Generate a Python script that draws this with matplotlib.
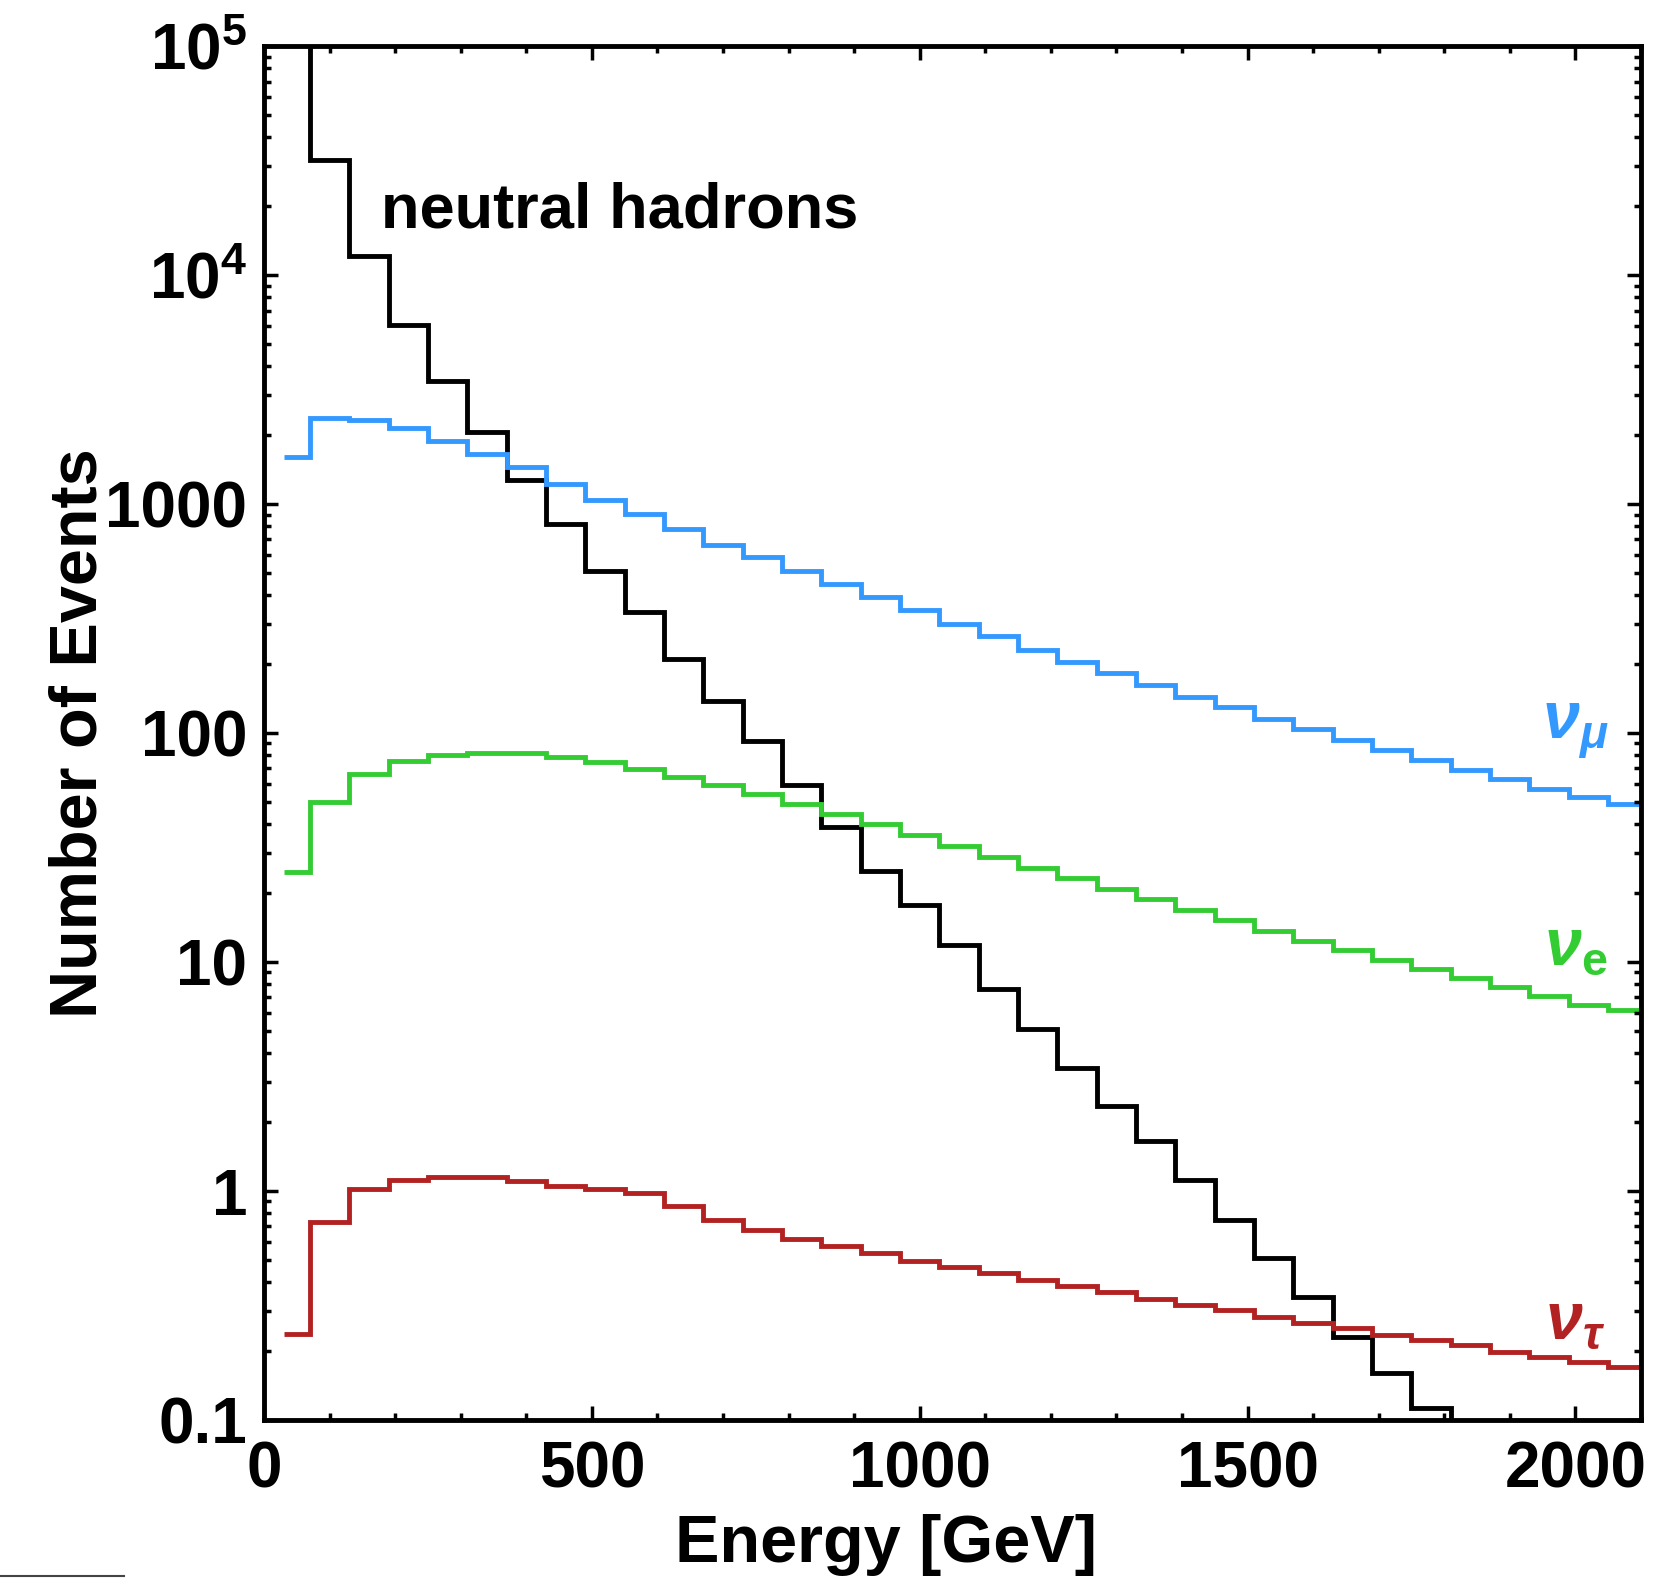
import numpy as np
import matplotlib
matplotlib.use('Agg')
import matplotlib.pyplot as plt
from matplotlib.lines import Line2D
from matplotlib.ticker import FixedLocator, FixedFormatter, LogLocator, MultipleLocator, NullFormatter

plt.rcParams['font.family'] = ['Liberation Sans', 'DejaVu Sans']
plt.rcParams['font.weight'] = 'bold'
plt.rcParams['mathtext.fontset'] = 'custom'
plt.rcParams['mathtext.rm'] = 'Liberation Sans:bold'
plt.rcParams['mathtext.it'] = 'Liberation Sans:italic'
plt.rcParams['mathtext.bf'] = 'Liberation Sans:bold'

# bin edges in GeV (first bin 30-70, then 60 GeV wide)
edges = [30] + list(range(70, 2111, 60))

# neutral hadrons (black), ends below 0.1 after 1810 GeV
hadron_edges = [30] + list(range(70, 1871, 60))
hadrons = [2e5, 31800, 12100, 6050, 3450, 2070, 1270, 815, 511, 337, 211, 138, 92,
           59, 39, 25, 17.8, 11.9, 7.6, 5.1, 3.43, 2.34, 1.66, 1.12, 0.75, 0.51,
           0.346, 0.231, 0.161, 0.113, 0.06]

nu_mu = [1607, 2380, 2330, 2140, 1880, 1660, 1446, 1220, 1040, 906, 780, 665, 586,
         510, 449, 391, 344, 300, 264, 230, 205, 182, 162, 144, 130, 115, 104, 93,
         84, 76, 69, 63, 57, 52.5, 49]

nu_e = [24.7, 49.8, 66.4, 75.4, 80.3, 82, 82, 78.7, 74.6, 69.3, 64.3, 59, 54.2, 48.8,
        44.4, 39.9, 35.9, 32.2, 28.7, 25.8, 23.2, 20.9, 18.8, 16.9, 15.2, 13.6, 12.4,
        11.3, 10.2, 9.3, 8.5, 7.8, 7.1, 6.5, 6.15]

nu_tau = [0.238, 0.734, 1.02, 1.12, 1.15, 1.15, 1.11, 1.05, 1.02, 0.98, 0.86, 0.75,
          0.675, 0.62, 0.575, 0.535, 0.497, 0.466, 0.437, 0.41, 0.385, 0.361, 0.339,
          0.318, 0.301, 0.283, 0.265, 0.251, 0.236, 0.224, 0.212, 0.199, 0.189, 0.179,
          0.171]

ytick_vals = [0.1, 1, 10, 100, 1000, 1e4, 1e5]
ytick_labels = ['0.1', '1', '10', '100', '1000', r'$\mathbf{10^4}$', r'$\mathbf{10^5}$']

fig = plt.figure(figsize=(16.55, 15.82), dpi=100)
ax = fig.add_axes([0.1595, 0.1024, 0.832, 0.8685])

lw = 3.5
ax.stairs(hadrons, hadron_edges, color='black', lw=lw, baseline=None)
ax.stairs(nu_mu, edges, color='#3399ff', lw=lw, baseline=None)
ax.stairs(nu_e, edges, color='#33cc33', lw=lw, baseline=None)
ax.stairs(nu_tau, edges, color='#b22222', lw=lw, baseline=None)

ax.set_yscale('log')
ax.set_xlim(0, 2100)
ax.set_ylim(0.1, 1e5)

ax.xaxis.set_major_locator(MultipleLocator(500))
ax.xaxis.set_minor_locator(MultipleLocator(100))
ax.yaxis.set_major_locator(FixedLocator(ytick_vals))
ax.yaxis.set_major_formatter(FixedFormatter(ytick_labels))
ax.yaxis.set_minor_locator(LogLocator(base=10, subs=np.arange(2, 10)))
ax.yaxis.set_minor_formatter(NullFormatter())

ax.tick_params(which='both', direction='in', top=True, right=True, width=2.5)
ax.tick_params(which='major', length=10, labelsize=46)
ax.tick_params(which='minor', length=5)
ax.tick_params(axis='y', which='major', pad=12)
ax.tick_params(axis='x', which='major', pad=15)
for lab in ax.get_xticklabels() + ax.get_yticklabels():
    lab.set_fontweight('bold')

for s in ax.spines.values():
    s.set_linewidth(3.5)

ax.set_xlabel('Energy [GeV]', fontsize=48, fontweight='bold')
ax.xaxis.set_label_coords(0.452, -0.091, transform=ax.transAxes)
ax.xaxis.label.set_va('center')
ax.set_ylabel('Number of Events', fontsize=48, fontweight='bold', labelpad=-3.5)

ax.text(0.085, 0.88, 'neutral hadrons', transform=ax.transAxes, fontsize=45.5,
        fontweight='bold', ha='left', va='center')
ax.text(0.9525, 0.502, r'$\nu_{\mu}$', transform=ax.transAxes, fontsize=48,
        color='#3399ff', ha='center', va='center')
ax.text(0.9525, 0.344, r'$\nu_{\mathbf{e}}$', transform=ax.transAxes, fontsize=48,
        color='#33cc33', ha='center', va='center')
ax.text(0.9525, 0.0715, r'$\nu_{\tau}$', transform=ax.transAxes, fontsize=48,
        color='#b22222', ha='center', va='center')

# stray rule at the bottom left of the original page
fig.add_artist(Line2D([0, 0.075], [0.004, 0.004], color='#444444', lw=1.5))

fig.savefig('out.png', dpi=100)
